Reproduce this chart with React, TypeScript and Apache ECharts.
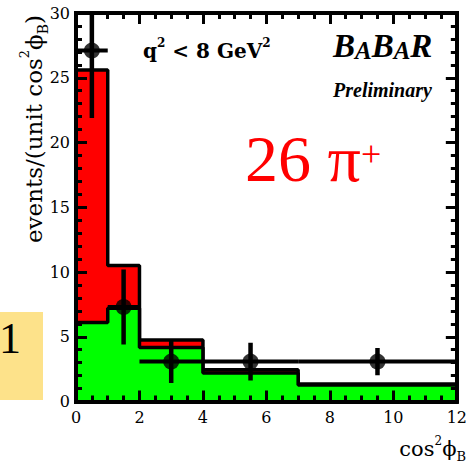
import React, { useEffect, useRef } from "react";
import * as echarts from "echarts";

// ---- data ----
const binEdges = [0, 1, 2, 4, 7, 12];
const totalHist = [25.6, 10.5, 4.75, 2.45, 1.35]; // red (signal + background)
const greenHist = [6.1, 7.2, 4.17, 2.2, 1.27]; // green (background)
const pointX = [0.5, 1.5, 3, 5.5, 9.5];
const pointXLo = [0, 1, 2, 4, 7];
const pointXHi = [1, 2, 4, 7, 12];
const pointY = [27.1, 7.3, 3.08, 3.08, 3.08];
const pointYErr = [5.2, 2.9, 1.65, 1.45, 1.05];
const xRange = [0, 12];
const yRange = [0, 30];

const SERIF = "DejaVu Serif";
const TIMES = "Liberation Serif";

function stepData(vals: number[]) {
  return binEdges.map((e, i) => [e, vals[Math.min(i, vals.length - 1)]]);
}

function axisCommon(showLabel: boolean) {
  return {
    axisLine: { show: true, onZero: false, lineStyle: { color: "#000", width: 4, cap: "square" } },
    axisTick: { show: true, inside: true, length: 11, lineStyle: { color: "#000", width: 3 } },
    splitLine: { show: false },
    minorSplitLine: { show: false },
    axisLabel: {
      show: showLabel,
      color: "#000",
      fontFamily: SERIF,
      fontSize: 16,
    },
    z: 5,
  };
}

export default function App() {
  const ref = useRef<HTMLDivElement>(null);
  useEffect(() => {
    if (!ref.current) return;
    const chart = echarts.init(ref.current, null, { renderer: "svg" });
    const xBase = (pos: string, show: boolean) => {
      const c: any = axisCommon(show);
      return {
        type: "value",
        min: xRange[0],
        max: xRange[1],
        interval: 2,
        position: pos,
        ...c,
        minorTick: { show: true, splitNumber: 4, length: 6, lineStyle: { color: "#000", width: 3 } },
        axisLabel: { ...c.axisLabel, margin: 8 },
      };
    };
    const yBase = (pos: string, show: boolean) => {
      const c: any = axisCommon(show);
      return {
        type: "value",
        min: yRange[0],
        max: yRange[1],
        interval: 5,
        position: pos,
        ...c,
        minorTick: { show: true, splitNumber: 5, length: 6, lineStyle: { color: "#000", width: 3 } },
        axisLabel: { ...c.axisLabel, margin: 6 },
      };
    };
    const errData = pointX.map((x, i) => [
      x,
      pointY[i],
      pointXLo[i],
      pointXHi[i],
      pointY[i] - pointYErr[i],
      pointY[i] + pointYErr[i],
    ]);
    chart.setOption({
      animation: false,
      backgroundColor: "#fff",
      grid: { left: 76, right: 9, top: 13, bottom: 63.5, containLabel: false },
      xAxis: [xBase("bottom", true), xBase("top", false)],
      yAxis: [yBase("left", true), yBase("right", false)],
      series: [
        {
          type: "line",
          step: "end",
          data: stepData(totalHist),
          symbol: "none",
          lineStyle: { color: "#000", width: 3.5 },
          areaStyle: { color: "#ff0000", opacity: 1 },
          z: 2,
        },
        {
          type: "line",
          step: "end",
          data: stepData(greenHist),
          symbol: "none",
          lineStyle: { color: "#000", width: 3.5 },
          areaStyle: { color: "#00ff00", opacity: 1 },
          z: 3,
        },
        {
          type: "custom",
          clip: true,
          z: 4,
          data: errData,
          encode: { x: 0, y: 1 },
          renderItem: (params: any, api: any) => {
            const l = api.coord([api.value(2), api.value(1)]);
            const r = api.coord([api.value(3), api.value(1)]);
            const lo = api.coord([api.value(0), api.value(4)]);
            const hi = api.coord([api.value(0), api.value(5)]);
            return {
              type: "group",
              children: [
                { type: "line", shape: { x1: l[0], y1: l[1], x2: r[0], y2: r[1] }, style: { stroke: "#000", lineWidth: 4 } },
                { type: "line", shape: { x1: lo[0], y1: lo[1], x2: hi[0], y2: hi[1] }, style: { stroke: "#000", lineWidth: 4.5 } },
              ],
            };
          },
        },
        {
          type: "scatter",
          data: pointX.map((x, i) => [x, pointY[i]]),
          symbol: "circle",
          symbolSize: 16,
          itemStyle: { color: "#000" },
          z: 4,
        },
      ],
      graphic: [
        { type: "rect", left: 0, top: 312, shape: { width: 43, height: 88 }, style: { fill: "#fde28a" }, z: 1 },
        {
          type: "text",
          x: -1,
          y: 316,
          style: { text: "1", fontFamily: TIMES, fontSize: 44, fill: "#000", verticalAlign: "top", align: "left" },
          z: 2,
        },
        {
          type: "text",
          x: 34,
          y: 129,
          rotation: Math.PI / 2,
          style: {
            text: "{a|events/(unit cos}{s|2}{a|ϕ}{b|B}{a|)}",
            align: "center",
            verticalAlign: "middle",
            fill: "#000",
            rich: {
              a: { fontFamily: SERIF, fontSize: 23, lineHeight: 32, verticalAlign: "middle" },
              s: { fontFamily: SERIF, fontSize: 13, lineHeight: 13, verticalAlign: "top" },
              b: { fontFamily: SERIF, fontSize: 14, lineHeight: 14, verticalAlign: "bottom" },
            },
          },
          z: 10,
        },
        {
          type: "text",
          x: 466,
          y: 449,
          style: {
            text: "{a|cos}{s|2}{a|ϕ}{b|B}",
            align: "right",
            verticalAlign: "middle",
            fill: "#000",
            rich: {
              a: { fontFamily: SERIF, fontSize: 21, lineHeight: 28, verticalAlign: "middle" },
              s: { fontFamily: SERIF, fontSize: 12, lineHeight: 12, verticalAlign: "top" },
              b: { fontFamily: SERIF, fontSize: 13, lineHeight: 13, verticalAlign: "bottom" },
            },
          },
          z: 10,
        },
        {
          type: "text",
          x: 143,
          y: 51,
          style: {
            text: "{a|q}{s|2}{a| < 8 GeV}{s|2}",
            align: "left",
            verticalAlign: "middle",
            fill: "#000",
            rich: {
              a: { fontFamily: SERIF, fontWeight: "bold", fontSize: 20, lineHeight: 28, verticalAlign: "middle" },
              s: { fontFamily: SERIF, fontWeight: "bold", fontSize: 12, lineHeight: 12, verticalAlign: "top" },
            },
          },
          z: 10,
        },
        {
          type: "text",
          x: 333,
          y: 46,
          style: {
            text: "{B|B}{A|A}{B|B}{A|A}{B|R}",
            align: "left",
            verticalAlign: "middle",
            fill: "#000",
            rich: {
              B: { fontFamily: TIMES, fontWeight: "bold", fontStyle: "italic", fontSize: 33, lineHeight: 34, verticalAlign: "middle" },
              A: { fontFamily: TIMES, fontWeight: "bold", fontStyle: "italic", fontSize: 25, lineHeight: 26, verticalAlign: "bottom" },
            },
          },
          z: 10,
        },
        {
          type: "text",
          x: 333,
          y: 90,
          style: {
            text: "Preliminary",
            fontFamily: TIMES,
            fontWeight: "bold",
            fontStyle: "italic",
            fontSize: 20,
            fill: "#000",
            align: "left",
            verticalAlign: "middle",
          },
          z: 10,
        },
        {
          type: "text",
          x: 245,
          y: 125,
          style: {
            text: "26 π",
            fontFamily: TIMES,
            fontSize: 66,
            fill: "#ff0000",
            align: "left",
            verticalAlign: "top",
          },
          z: 10,
        },
        {
          type: "text",
          x: 361,
          y: 136,
          style: {
            text: "+",
            fontFamily: TIMES,
            fontSize: 36,
            fill: "#ff0000",
            align: "left",
            verticalAlign: "top",
          },
          z: 10,
        },
      ],
    });
    return () => chart.dispose();
  }, []);
  return <div ref={ref} style={{ position: "absolute", left: 0, top: 0, width: 470, height: 465 }} />;
}
